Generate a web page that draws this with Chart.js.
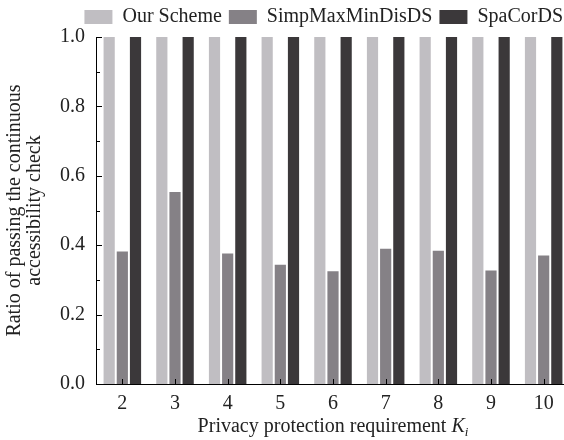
<!DOCTYPE html>
<html>
<head>
<meta charset="utf-8">
<script src="https://cdn.jsdelivr.net/npm/chart.js@4.4.1/dist/chart.umd.min.js"></script>
<style>
    html, body { margin: 0; padding: 0; background: #fff; overflow: hidden; }
    #wrap { width: 572px; height: 440px; }
</style>
</head>
<body>
<div id="wrap"><canvas id="myChart"></canvas></div>
<script>
// dados
const categorias = ['2', '3', '4', '5', '6', '7', '8', '9', '10'];
const ourScheme = [1, 1, 1, 1, 1, 1, 1, 1, 1];
const simpMaxMinDisDS = [0.382, 0.553, 0.376, 0.344, 0.325, 0.390, 0.384, 0.327, 0.370];
const spaCorDS = [1, 1, 1, 1, 1, 1, 1, 1, 1];
const yTicks = [0, 0.2, 0.4, 0.6, 0.8, 1.0];

const fonte = 'Liberation Serif';

// desenha os ticks para dentro e o titulo do eixo x com K italico
const eixosPlugin = {
    id: 'eixosPlugin',
    afterDraw(chart) {
        let ctx = chart.ctx;
        let x = chart.scales.x;
        let y = chart.scales.y;
        let area = chart.chartArea;
        ctx.save();
        ctx.strokeStyle = '#000';
        ctx.lineWidth = 1;
        ctx.beginPath();
        for (let i = 0; i <= 10; i++) {
            let py = Math.round(y.getPixelForValue(i / 10)) + 0.5;
            let len = (i % 2 === 0) ? 6 : 4;
            ctx.moveTo(area.left, py);
            ctx.lineTo(area.left + len, py);
        }
        for (let i = 0; i < categorias.length; i++) {
            let px = Math.round(x.getPixelForValue(i)) + 0.5;
            ctx.moveTo(px, area.bottom);
            ctx.lineTo(px, area.bottom - 5);
        }
        ctx.stroke();

        // titulo x
        let t1 = 'Privacy protection requirement ';
        ctx.fillStyle = '#222';
        ctx.textBaseline = 'alphabetic';
        ctx.font = '20px "' + fonte + '"';
        let w1 = ctx.measureText(t1).width;
        ctx.font = 'italic 20px "' + fonte + '"';
        let wK = ctx.measureText('K').width;
        ctx.font = 'italic 13px "' + fonte + '"';
        let wi = ctx.measureText('i').width;
        let total = w1 + wK + wi;
        let cx = (area.left + area.right) / 2;
        let sx = cx - total / 2;
        let by = 432;
        ctx.textAlign = 'left';
        ctx.font = '20px "' + fonte + '"';
        ctx.fillText(t1, sx, by);
        ctx.font = 'italic 20px "' + fonte + '"';
        ctx.fillText('K', sx + w1, by);
        ctx.font = 'italic 13px "' + fonte + '"';
        ctx.fillText('i', sx + w1 + wK, by + 4);
        ctx.restore();
    }
};

let ctx = document.getElementById('myChart').getContext('2d');
let grafico = new Chart(ctx, {
    type: 'bar',
    data: {
        labels: categorias,
        datasets: [{
            label: 'Our Scheme',
            data: ourScheme,
            backgroundColor: '#c0bec2'
        }, {
            label: 'SimpMaxMinDisDS',
            data: simpMaxMinDisDS,
            backgroundColor: '#858186'
        }, {
            label: 'SpaCorDS',
            data: spaCorDS,
            backgroundColor: '#3b383a'
        }]
    },
    options: {
        responsive: true,
        maintainAspectRatio: false,
        animation: false,
        datasets: {
            bar: {
                categoryPercentage: 0.75,
                barPercentage: 0.85,
                borderWidth: 0
            }
        },
        layout: {
            padding: { left: 0, right: 2, top: 0, bottom: 0 }
        },
        plugins: {
            legend: {
                position: 'top',
                align: 'end',
                labels: {
                    boxWidth: 28,
                    boxHeight: 14,
                    padding: 7,
                    color: '#222',
                    font: { family: fonte, size: 20 }
                }
            },
            tooltip: { enabled: false }
        },
        scales: {
            x: {
                grid: { display: false, drawTicks: false },
                border: { display: true, color: '#000', width: 1 },
                ticks: {
                    color: '#222',
                    padding: 8,
                    font: { family: fonte, size: 20 }
                },
                afterFit: function(scale) { scale.height = 56; }
            },
            y: {
                min: 0,
                max: 1,
                grid: { display: false, drawTicks: false },
                border: { display: true, color: '#000', width: 1 },
                afterBuildTicks: function(scale) {
                    scale.ticks = yTicks.map(v => ({ value: v }));
                },
                ticks: {
                    color: '#222',
                    padding: 11,
                    font: { family: fonte, size: 20 },
                    callback: function(v) { return Number(v).toFixed(1); }
                },
                title: {
                    display: true,
                    text: ['Ratio of passing the continuous', 'accessibility check'],
                    color: '#222',
                    font: { family: fonte, size: 20, lineHeight: 1.0 },
                    padding: { top: 5, bottom: 0 }
                },
                afterFit: function(scale) { scale.width = 96; }
            }
        }
    },
    plugins: [eixosPlugin]
});
</script>
</body>
</html>
